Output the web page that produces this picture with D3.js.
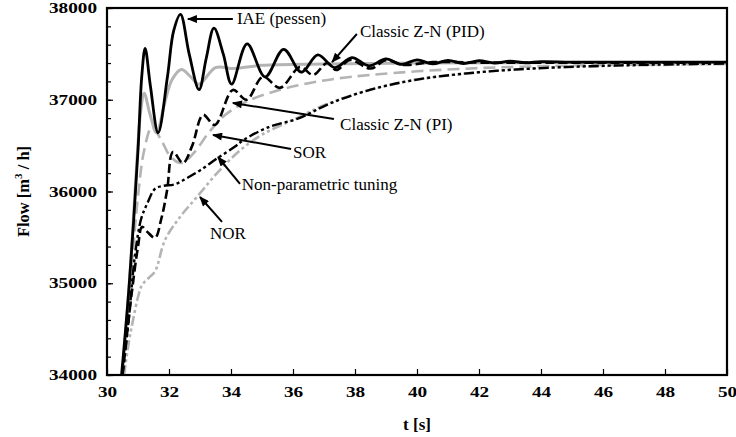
<!DOCTYPE html>
<html>
<head>
<meta charset="utf-8">
<script src="https://cdn.jsdelivr.net/npm/d3@7"></script>
<style>
  body { margin: 0; background: #fff; }
  svg { display: block; }
</style>
</head>
<body>
<div id="chart"></div>
<script>
// axis ticks
const xTicks = [30, 32, 34, 36, 38, 40, 42, 44, 46, 48, 50]
const yTicks = [34000, 35000, 36000, 37000, 38000]

// IAE (pessen) - black solid
const tIAE = [30.47, 30.72, 31.0, 31.12, 31.23, 31.4, 31.65, 31.95, 32.15, 32.37, 32.65, 32.97, 33.2, 33.45, 33.75, 34.02, 34.52, 35.1, 35.7, 36.27, 36.8, 37.35, 37.9, 38.45, 39.0, 39.5, 40.0, 40.5, 41.0, 41.5, 42.0, 42.5, 43.0, 43.5, 44.0, 45, 47, 50]
const vIAE = [34000, 35000, 36450, 37250, 37560, 37150, 36640, 37250, 37750, 37930, 37500, 37110, 37450, 37780, 37500, 37170, 37610, 37250, 37550, 37300, 37490, 37350, 37460, 37370, 37445, 37385, 37435, 37390, 37430, 37395, 37425, 37400, 37420, 37403, 37415, 37410, 37410, 37410]

// Classic Z-N (PID) - grey solid
const tPID = [30.5, 30.75, 30.95, 31.08, 31.2, 31.38, 31.6, 31.85, 32.1, 32.4, 32.7, 32.97, 33.5, 34.1, 35, 37, 40, 45, 50]
const vPID = [34000, 35150, 36250, 36850, 37070, 36850, 36640, 36950, 37220, 37330, 37250, 37170, 37350, 37340, 37375, 37390, 37400, 37405, 37405]

// Classic Z-N (PI) - black dashed
const tPI = [30.5, 30.8, 31.0, 31.13, 31.3, 31.55, 31.75, 31.94, 32.13, 32.45, 32.75, 33.1, 33.48, 34.06, 34.5, 35.03, 35.58, 36.23, 36.65, 37.1, 37.4, 37.84, 38.5, 39.0, 39.6, 40.5, 42, 45, 50]
const vPI = [34000, 34900, 35400, 35614, 35560, 35495, 35700, 36017, 36431, 36310, 36500, 36835, 36725, 37107, 37000, 37250, 37130, 37357, 37270, 37400, 37324, 37433, 37340, 37430, 37380, 37410, 37405, 37405, 37405]

// SOR - grey dashed
const tSOR = [30.5, 30.8, 31.0, 31.2, 31.45, 31.75, 32.05, 32.4, 32.8, 33.3, 33.8, 34.5, 35.5, 36.5, 37.5, 38.5, 40, 42, 44, 46, 48, 50]
const vSOR = [34000, 35200, 35950, 36450, 36700, 36560, 36380, 36310, 36420, 36650, 36830, 36980, 37100, 37180, 37235, 37270, 37310, 37345, 37365, 37378, 37385, 37390]

// Non-parametric tuning - black dash-dot-dot
const tNPT = [30.5, 30.7, 30.9, 31.1, 31.3, 31.55, 31.8, 32.2, 32.6, 33.0, 33.55, 34.13, 34.4, 35.2, 36.2, 37.2, 38.5, 40, 42, 44, 46, 48, 50]
const vNPT = [34000, 34600, 35300, 35700, 35870, 36030, 36060, 36080, 36150, 36230, 36360, 36490, 36560, 36700, 36800, 36960, 37110, 37220, 37300, 37345, 37370, 37385, 37395]

// NOR - grey dash-dot-dot
const tNOR = [30.55, 30.7, 30.84, 31.0, 31.13, 31.35, 31.55, 31.87, 32.35, 32.9, 33.55, 34.3, 35.0, 36.0, 37.0, 38.0, 39.0, 40.0, 42, 44, 46, 48, 50]
const vNOR = [34000, 34350, 34600, 34850, 34980, 35060, 35130, 35470, 35720, 35940, 36200, 36450, 36620, 36780, 36940, 37060, 37150, 37220, 37300, 37345, 37368, 37380, 37390]

// annotation labels: text anchor point, arrow tail, arrow tip (data units)
const labels = ['IAE (pessen)', 'Classic Z-N (PID)', 'Classic Z-N (PI)', 'SOR', 'Non-parametric tuning', 'NOR']
const labelPos = [[34.19, 37826], [38.16, 37684], [37.52, 36670], [36.0, 36365], [34.35, 36016], [33.32, 35482]]
const arrowFrom = [[34.06, 37880], [38.06, 37717], [37.32, 36790], [35.94, 36463], [34.29, 36082], [33.71, 35668]]
const arrowTo = [[32.61, 37880], [37.26, 37411], [34.06, 36965], [33.42, 36616], [33.58, 36376], [33.0, 35940]]

const serif = "'Liberation Serif'"
const width = 736, height = 437
const margin = {top: 8, right: 9, bottom: 62, left: 107}

const svg = d3.select('#chart')
    .append('svg')
    .attr('width', width)
    .attr('height', height)

const x = d3.scaleLinear()
    .domain([30, 50])
    .range([margin.left, width - margin.right])

const y = d3.scaleLinear()
    .domain([34000, 38000])
    .range([height - margin.bottom, margin.top])

svg.append('defs').append('clipPath')
    .attr('id', 'plot-clip')
    .append('rect')
    .attr('x', x(30))
    .attr('y', y(38000))
    .attr('width', x(50) - x(30))
    .attr('height', y(34000) - y(38000))

svg.select('defs').append('marker')
    .attr('id', 'arrow')
    .attr('viewBox', '0 0 10 8')
    .attr('refX', 9)
    .attr('refY', 4)
    .attr('markerWidth', 11)
    .attr('markerHeight', 8)
    .attr('markerUnits', 'userSpaceOnUse')
    .attr('orient', 'auto')
    .append('path')
    .attr('d', 'M0,0 L10,4 L0,8 Z')
    .attr('fill', 'black')

const line = d3.line()
    .x(d => x(d[0]))
    .y(d => y(d[1]))
    .curve(d3.curveCatmullRom.alpha(0.5))

const series = [
    {t: tNOR, v: vNOR, color: '#b4b4b4', dash: '10,3,3,3,3,3', w: 2.6},
    {t: tSOR, v: vSOR, color: '#b4b4b4', dash: '12,6', w: 2.6},
    {t: tPID, v: vPID, color: '#b4b4b4', dash: null, w: 3},
    {t: tNPT, v: vNPT, color: 'black', dash: '10,3,3,3,3,3', w: 2.4},
    {t: tPI, v: vPI, color: 'black', dash: '9,4', w: 2.6},
    {t: tIAE, v: vIAE, color: 'black', dash: null, w: 2.8}
]

const plot = svg.append('g').attr('clip-path', 'url(#plot-clip)')

series.forEach(s => {
    plot.append('path')
        .datum(s.t.map((t, i) => [t, s.v[i]]))
        .attr('d', line)
        .attr('fill', 'none')
        .attr('stroke', s.color)
        .attr('stroke-width', s.w)
        .attr('stroke-dasharray', s.dash)
        .attr('stroke-linejoin', 'round')
})

// axes, ticks pointing inward
const xAxis = svg.append('g')
    .attr('transform', `translate(0,${y(34000)})`)
    .call(d3.axisBottom(x).tickValues(xTicks).tickSize(-6).tickPadding(12).tickFormat(d3.format('d')))

const yMinor = d3.range(34000, 38001, 200)
svg.append('g')
    .attr('transform', `translate(${x(30)},0)`)
    .call(d3.axisRight(y).tickValues(yMinor).tickSize(4).tickFormat(''))
    .call(g => g.select('.domain').remove())

const yAxis = svg.append('g')
    .attr('transform', `translate(${x(30)},0)`)
    .call(d3.axisLeft(y).tickValues(yTicks).tickSize(-6).tickPadding(10).tickFormat(d3.format('d')))

// tick labels: bold, a little wide as in the source figure
svg.selectAll('.tick text')
    .style('font-family', serif)
    .attr('font-weight', 'bold')
    .attr('font-size', 14.5)
    .attr('fill', 'black')
    .attr('textLength', function () { return this.textContent.length * 9.6 })
    .attr('lengthAdjust', 'spacingAndGlyphs')
svg.selectAll('.tick line').attr('stroke', 'black').attr('stroke-width', 1.2)

// frame
svg.append('rect')
    .attr('x', x(30))
    .attr('y', y(38000))
    .attr('width', x(50) - x(30))
    .attr('height', y(34000) - y(38000))
    .attr('fill', 'none')
    .attr('stroke', 'black')
    .attr('stroke-width', 2.2)
xAxis.select('.domain').remove()
yAxis.select('.domain').remove()

// axis titles
svg.append('text')
    .attr('x', (x(30) + x(50)) / 2)
    .attr('y', 430)
    .attr('text-anchor', 'middle')
    .style('font-family', serif)
    .attr('font-weight', 'bold')
    .attr('font-size', 17)
    .text('t [s]')

const yTitle = svg.append('text')
    .attr('transform', `translate(29,${(y(34000) + y(38000)) / 2}) rotate(-90)`)
    .attr('text-anchor', 'middle')
    .style('font-family', serif)
    .attr('font-weight', 'bold')
    .attr('font-size', 16.5)
yTitle.append('tspan').text('Flow [m')
yTitle.append('tspan').attr('font-size', 11).attr('dy', -7).text('3')
yTitle.append('tspan').attr('dy', 7).text(' / h]')

// annotations
labels.forEach((lab, i) => {
    svg.append('line')
        .attr('x1', x(arrowFrom[i][0]))
        .attr('y1', y(arrowFrom[i][1]))
        .attr('x2', x(arrowTo[i][0]))
        .attr('y2', y(arrowTo[i][1]))
        .attr('stroke', 'black')
        .attr('stroke-width', 2)
        .attr('marker-end', 'url(#arrow)')
    svg.append('text')
        .attr('x', x(labelPos[i][0]))
        .attr('y', y(labelPos[i][1]))
        .style('font-family', serif)
        .attr('font-size', 17)
        .text(lab)
})
</script>
</body>
</html>
